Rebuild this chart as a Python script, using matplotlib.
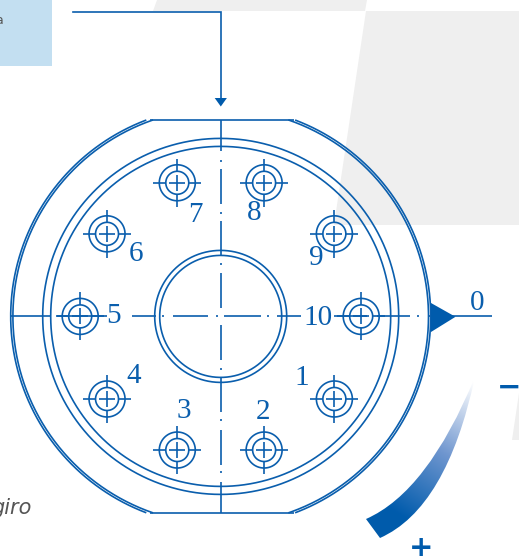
import numpy as np
import matplotlib
matplotlib.use("Agg")
import matplotlib.pyplot as plt
from matplotlib.patches import Polygon, Rectangle, PathPatch
from matplotlib.path import Path
from matplotlib.colors import LinearSegmentedColormap

BLUE = "#0A5EAD"
SOLID = "#005BAC"
GRAY = "#EFEFEF"
BOX = "#C3DFF1"

cx, cy = 220.7, 316.4
hole_labels = ["1", "2", "3", "4", "5", "6", "7", "8", "9", "10"]
hole_angles = [-36, -72, -108, -144, 180, 144, 108, 72, 36, 0]
label_x = [302, 263, 184, 134, 114, 136, 195, 254, 316, 318]
label_y = [378, 412, 411, 376, 316, 254, 215, 213, 258, 318]
bolt_radius = 140.5
hole_radii = [18, 11.5]
ring_radii = [178, 170, 66, 61]
rim_radii = [210, 207.8]
flat_half = 196.5
vert_segs = [(120, 151), (160, 162), (169, 204), (212, 214), (221, 255), (263, 265),
             (273, 308), (325, 360), (368, 370), (378, 412), (419, 421), (430, 465),
             (471, 473), (482, 513)]
horiz_segs = [(10, 50), (57, 107), (132, 156), (162, 164), (173, 208), (216, 218),
              (224, 261), (267, 269), (277, 301), (334, 367), (377, 410), (417, 419),
              (428, 492)]
cross_segs = [(-24, -11.5), (-8, 8), (11.5, 24)]

fig = plt.figure(figsize=(5.19, 5.58), dpi=100)
ax = fig.add_axes([0, 0, 1, 1])
ax.set_xlim(0, 519)
ax.set_ylim(558, 0)
ax.axis("off")

for pts in ([(157, 0), (153, 11), (365, 11), (367, 0)],
            [(366, 11), (519, 11), (519, 225), (334, 225)],
            [(519, 393), (512, 440), (519, 440)]):
    ax.add_patch(Polygon(pts, closed=True, fc=GRAY, ec="none", zorder=0))
ax.add_patch(Rectangle((0, 0), 52, 66, fc=BOX, ec="none", zorder=0))

lw = 1.2
kw = dict(color=BLUE, lw=lw, solid_capstyle="butt", zorder=2)

# rim arcs, cut by the two flats
t = np.linspace(0, 2 * np.pi, 1441)
for r in rim_radii:
    x = cx + r * np.cos(t)
    y = cy + r * np.sin(t)
    x = np.where(np.abs(y - cy) <= flat_half, x, np.nan)
    ax.plot(x, y, **kw)
hx = np.sqrt(rim_radii[0] ** 2 - flat_half ** 2)
for sy in (-1, 1):
    ax.plot([cx - hx + 3, cx + hx - 1], [cy + sy * flat_half] * 2, **kw)

for r in ring_radii:
    ax.plot(cx + r * np.cos(t), cy + r * np.sin(t), **kw)

for a, b in vert_segs:
    ax.plot([cx, cx], [a, b], **kw)
for a, b in horiz_segs:
    ax.plot([a, b], [cy, cy], **kw)

# bolt holes
for ang in hole_angles:
    hx0 = cx + bolt_radius * np.cos(np.radians(ang))
    hy0 = cy - bolt_radius * np.sin(np.radians(ang))
    for r in hole_radii:
        ax.plot(hx0 + r * np.cos(t), hy0 + r * np.sin(t), **kw)
    for a, b in cross_segs:
        ax.plot([hx0 + a, hx0 + b], [hy0, hy0], **kw)
        ax.plot([hx0, hx0], [hy0 + a, hy0 + b], **kw)

for s, x, y in zip(hole_labels + ["0"], label_x + [477], label_y + [303]):
    ax.text(x, y, s, family="Liberation Serif", fontsize=21, color=BLUE,
            ha="center", va="center", zorder=3)

# leader with arrow head
ax.plot([73, cx, cx], [11.8, 11.8, 98], color=BLUE, lw=1.2, solid_joinstyle="miter", zorder=2)
ax.add_patch(Polygon([(214.7, 98), (226.9, 98), (220.8, 106.5)], fc=SOLID, ec="none", zorder=3))
ax.add_patch(Polygon([(431, 303), (431, 332), (455.5, 316.8)], fc=SOLID, ec="none", zorder=3))

# gradient wedge
verts = [(380, 538), (446.5, 508.5), (475, 377), (427.5, 492), (366, 519), (380, 538)]
codes = [Path.MOVETO, Path.CURVE3, Path.CURVE3, Path.CURVE3, Path.CURVE3, Path.LINETO]
wedge = PathPatch(Path(verts, codes), fc="none", ec="none", transform=ax.transData)
ax.add_patch(wedge)
gx, gy = np.meshgrid(np.linspace(360, 480, 240), np.linspace(370, 540, 340))
p0 = np.array([392, 510])
p1 = np.array([474, 382])
d = p1 - p0
g = ((gx - p0[0]) * d[0] + (gy - p0[1]) * d[1]) / (d @ d)
cmap = LinearSegmentedColormap.from_list("fade", [SOLID, "#6F96CF", "#FFFFFF"])
im = ax.imshow(np.clip(g, 0, 1), extent=(360, 480, 540, 370), cmap=cmap, vmin=0, vmax=1,
               origin="upper", aspect="auto", zorder=1, interpolation="bilinear")
im.set_clip_path(wedge)
ax.set_xlim(0, 519)
ax.set_ylim(558, 0)

ax.text(421, 548.5, "+", family="DejaVu Sans", weight="bold", fontsize=21, color=SOLID,
        ha="center", va="center", zorder=3)
ax.text(497, 388, "\u2212", family="DejaVu Sans", weight="bold", fontsize=21, color=SOLID,
        ha="left", va="center", zorder=3)
ax.text(3.5, 24, "a", family="DejaVu Sans", fontsize=9, color="#555555", ha="right",
        va="baseline", zorder=3)
ax.text(32, 514, "giro", family="DejaVu Sans", style="italic", fontsize=15, color="#555555",
        ha="right", va="baseline", zorder=3)

fig.savefig("out.png", dpi=100)
